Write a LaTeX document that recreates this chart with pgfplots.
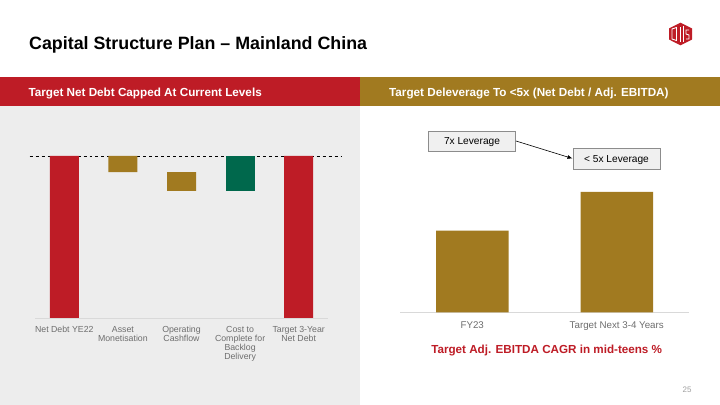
\documentclass[border=0pt]{standalone}
\usepackage{pgfplots}
\pgfplotsset{compat=1.18}
\usepackage{fontspec}
\setmainfont{Liberation Sans}
\usetikzlibrary{arrows.meta}
\definecolor{cred}{RGB}{190,28,38}
\definecolor{cgold}{RGB}{161,122,32}
\definecolor{cgreen}{RGB}{0,104,76}
\definecolor{panelgray}{RGB}{237,237,237}
\definecolor{axgray}{RGB}{217,217,217}
\definecolor{labgray}{RGB}{110,110,110}
\definecolor{boxfill}{RGB}{240,240,240}
\definecolor{boxdraw}{RGB}{140,140,140}
\definecolor{pgray}{RGB}{160,160,160}
\begin{document}
\begin{tikzpicture}
\useasboundingbox (0,0) rectangle (720bp,405bp);
\fill[white] (0,0) rectangle (720bp,405bp);
% left gray panel
\fill[panelgray] (0,0) rectangle (360bp,299bp);
% header bars
\fill[cred] (0,299bp) rectangle (360bp,327.5bp);
\fill[cgold] (360bp,299bp) rectangle (720bp,327.5bp);
% title
\node[anchor=base west, inner sep=0, font=\fontsize{17.9}{20}\selectfont\bfseries] at (29bp,355bp) {Capital Structure Plan – Mainland China};
\node[anchor=base west, inner sep=0, text=white, font=\fontsize{11.75}{13}\selectfont\bfseries] at (28.3bp,308.3bp) {Target Net Debt Capped At Current Levels};
\node[anchor=base west, inner sep=0, text=white, font=\fontsize{11.75}{13}\selectfont\bfseries] at (389bp,308.3bp) {Target Deleverage To <5x (Net Debt / Adj. EBITDA)};
% logo
\fill[cred] (680.5bp,382.3bp) -- (692bp,376.5bp) -- (692bp,365.5bp) -- (680.5bp,359.7bp) -- (669bp,365.5bp) -- (669bp,376.5bp) -- cycle;
\draw[white, line width=0.9bp] (672bp,366bp) -- (672bp,376bp) -- (676.5bp,377.5bp) -- (676.5bp,364.5bp) -- cycle;
\draw[white, line width=0.9bp] (680.5bp,363bp) -- (680.5bp,378bp) (683bp,378.5bp) -- (683bp,363bp);
\draw[white, line width=0.9bp] (689bp,375bp) -- (686bp,375bp) -- (686bp,371bp) -- (689bp,370bp) -- (689bp,366bp) -- (686bp,366bp);

% waterfall
\begin{axis}[at={(35bp,87bp)}, anchor=south west, scale only axis,
  width=293bp, height=162bp, xmin=-0.5, xmax=4.5, ymin=0, ymax=100,
  ybar stacked, bar width=29bp, clip=false,
  hide y axis, axis x line*=bottom,
  x axis line style={draw=axgray, line width=0.8bp, -},
  xtick={0,1,2,3,4}, xtick style={draw=none},
  xticklabels={{Net Debt YE22},{Asset\\Monetisation},{Operating\\Cashflow},{Cost to\\Complete for\\Backlog\\Delivery},{Target 3-Year\\Net Debt}},
  xticklabel style={font=\fontsize{8.8}{9.2}\selectfont, text=labgray, align=center, inner sep=0pt, yshift=-8bp},
  ]
\addplot[fill=none, draw=none] coordinates {(0,0) (1,90.1) (2,78.4) (3,78.4) (4,0)};
\addplot[fill=cred, draw=none] coordinates {(0,100) (1,0) (2,0) (3,0) (4,100)};
\addplot[fill=cgold, draw=none] coordinates {(0,0) (1,9.9) (2,11.7) (3,0) (4,0)};
\addplot[fill=cgreen, draw=none] coordinates {(0,0) (1,0) (2,0) (3,21.6) (4,0)};
\draw[black, dashed, line width=0.8bp] (axis cs:-0.59,100) -- (axis cs:4.74,100);
\end{axis}

% right bar chart
\begin{axis}[at={(400bp,92.7bp)}, anchor=south west, scale only axis,
  width=289bp, height=120.3bp, xmin=-0.5, xmax=1.5, ymin=0, ymax=100,
  ybar, bar width=72.5bp, clip=false,
  hide y axis, axis x line*=bottom,
  x axis line style={draw=axgray, line width=0.8bp, -},
  xtick={0,1}, xtick style={draw=none},
  xticklabels={{FY23},{Target Next 3-4 Years}},
  xticklabel style={font=\fontsize{9.8}{10.5}\selectfont, text=labgray, align=center, inner sep=0pt, yshift=-5bp},
  ]
\addplot[fill=cgold, draw=none] coordinates {(0,67.8) (1,100)};
\end{axis}

% callouts
\node[draw=boxdraw, fill=boxfill, line width=0.8bp, minimum width=87.5bp, minimum height=20bp, inner sep=0, text height=7.3bp, text depth=0pt, font=\fontsize{10.2}{11}\selectfont] at (472bp,264bp) {7x Leverage};
\node[draw=boxdraw, fill=boxfill, line width=0.8bp, minimum width=87bp, minimum height=21bp, inner sep=0, text height=7.3bp, text depth=0pt, font=\fontsize{10.2}{11}\selectfont] at (616.5bp,246.5bp) {< 5x Leverage};
\draw[line width=0.6bp, -{Latex[length=5bp,width=4bp]}] (516bp,264bp) -- (572.5bp,246.5bp);

% red note
\node[anchor=base, inner sep=0, text=cred, font=\fontsize{11.7}{13}\selectfont\bfseries] at (546.7bp,51bp) {Target Adj. EBITDA CAGR in mid-teens \%};
% page number
\node[inner sep=0, text=pgray, font=\fontsize{8}{9}\selectfont] at (687bp,15.5bp) {25};
\end{tikzpicture}
\end{document}
